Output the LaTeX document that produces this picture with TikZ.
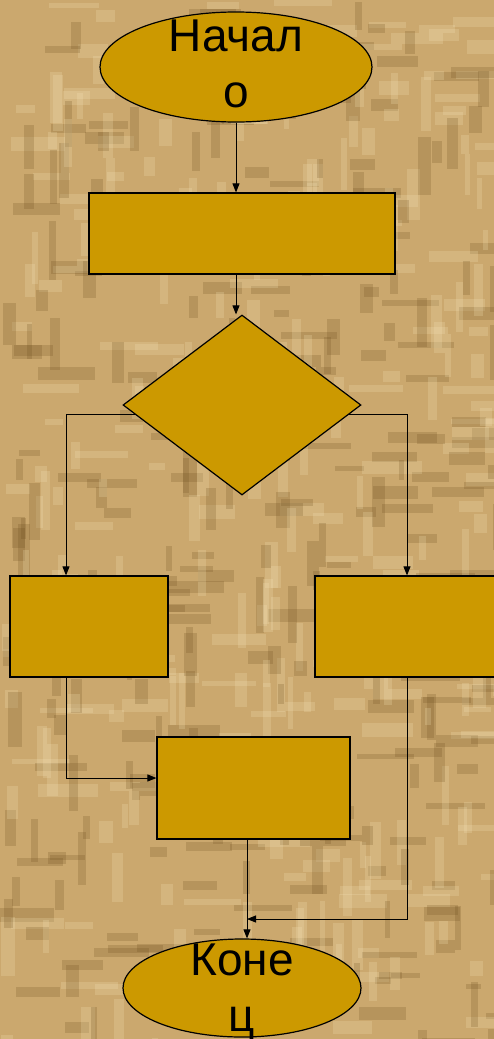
\documentclass[tikz,border=0pt]{standalone}
\usepackage{fontspec}
\setmainfont{Liberation Sans}
\usetikzlibrary{arrows.meta, shapes.geometric, positioning}
\definecolor{boxfill}{HTML}{CC9900}
\definecolor{paper}{HTML}{CBA86E}
\definecolor{paperlight}{HTML}{F7E6BA}
\definecolor{paperdark}{HTML}{6E4E1E}

\begin{document}
\begin{tikzpicture}[x=1pt, y=-1pt, >={Triangle[length=9pt, width=7pt]},
	block/.style={draw, line width=1.2pt, fill=boxfill, inner sep=0pt},
	terminal/.style={ellipse, draw, line width=1.2pt, fill=boxfill, inner sep=0pt},
	decision/.style={diamond, draw, line width=1.2pt, fill=boxfill, inner sep=0pt},
	word/.style={font=\fontsize{46}{56}\selectfont, align=center, inner sep=0pt},
	flow/.style={->, line width=0.9pt}]
				% background
				\useasboundingbox (0,0) rectangle (494,1039);
				\fill[paper] (0,0) rectangle (494,1039);
				\pgfmathsetseed{11}
				\pgfmathdeclarerandomlist{tone}{{paperlight}{paperdark}}
				\begin{scope}
					\clip (0,0) rectangle (494,1039);
					\foreach \i in {1,...,320} {
						\pgfmathrandomitem{\tn}{tone}
						\fill[\tn, opacity=0.22] (rnd*494, rnd*1039) rectangle ++(15+rnd*45, 5+rnd*9);
					}
					\foreach \i in {1,...,320} {
						\pgfmathrandomitem{\tn}{tone}
						\fill[\tn, opacity=0.22] (rnd*494, rnd*1039) rectangle ++(5+rnd*9, 15+rnd*45);
					}
				\end{scope}

				% shapes
				\node[terminal, minimum width=272pt, minimum height=110pt] (start) at (236,67) {};
				\node[word] (startText) at (236,63.5) {Начал\\о};
				\node[block, minimum width=306pt, minimum height=81pt] (init) at (242,233.5) {};
				\node[decision, minimum width=238pt, minimum height=180pt] (check) at (242,405) {};
				\node[block, minimum width=158pt, minimum height=101pt] (yes) at (89,626.5) {};
				\node[block, minimum width=184pt, minimum height=101pt] (no) at (407,626.5) {};
				\node[block, minimum width=193pt, minimum height=102pt] (join) at (253.5,788) {};
				\node[terminal, minimum width=238pt, minimum height=98pt] (stop) at (242,988) {};
				\node[word] (stopText) at (242,992.5) {Коне\\ц};

				% connectors
				\coordinate (leftLane) at (66,0);
				\coordinate (rightLane) at (407,0);
				\coordinate (merge) at (247,919);
				\draw[flow] (start.south) -- (start.south |- init.north);
				\draw[flow] (start.south |- init.south) -- (start.south |- check.north);
				\draw[flow] (check.185) -| (leftLane |- yes.north);
				\draw[flow] (check.355) -| (rightLane |- no.north);
				\draw[flow] (leftLane |- yes.south) |- ([yshift=10pt]join.west);
				\draw[flow] (rightLane |- no.south) |- (merge);
				\draw[flow] (merge |- join.south) -- (merge |- stop.north);
			\end{tikzpicture}
\end{document}
